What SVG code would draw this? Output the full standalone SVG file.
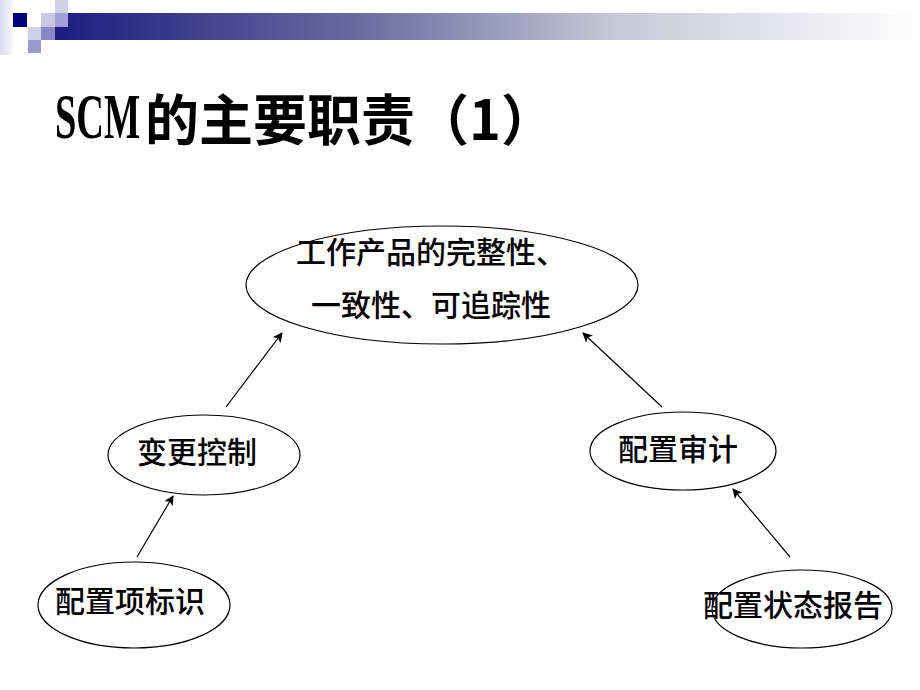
<svg xmlns="http://www.w3.org/2000/svg" width="920" height="690" viewBox="0 0 920 690">
  <defs>
    <linearGradient id="barGrad" x1="0" y1="0" x2="1" y2="0">
      <stop offset="0" stop-color="#1c1c80"/>
      <stop offset="0.35" stop-color="#6a6aa0"/>
      <stop offset="0.65" stop-color="#c8c8d8"/>
      <stop offset="1" stop-color="#ffffff"/>
    </linearGradient>
    <linearGradient id="stripGrad" x1="0" y1="0" x2="1" y2="0">
      <stop offset="0" stop-color="#dcdcee"/>
      <stop offset="1" stop-color="#f6f6fb"/>
    </linearGradient>
    <marker id="arrow" viewBox="0 0 10 10" refX="9" refY="5" markerWidth="10" markerHeight="10" markerUnits="userSpaceOnUse" orient="auto">
      <path d="M0,0 L10,5 L0,10 L2.5,5 Z" fill="#000"/>
    </marker>
    <style>
      .node ellipse { fill: #ffffff; stroke: #000000; stroke-width: 1.2; }
      .node text { font-family: "Noto Sans CJK SC", "Liberation Sans", sans-serif; font-size: 30px; font-weight: 500; fill: #000000; }
      .conn line { stroke: #000000; stroke-width: 1.2; marker-end: url(#arrow); }
      .title-latin { font-family: "Liberation Serif", serif; font-size: 64px; font-weight: bold; fill: #000000; }
      .title-cjk { font-family: "Noto Sans CJK SC", sans-serif; font-size: 55px; font-weight: bold; fill: #000000; }
    </style>
  </defs>

  <rect width="920" height="690" fill="#ffffff"/>

  <g id="header">
    <rect x="0" y="0" width="13" height="55" fill="url(#stripGrad)"/>
    <rect x="55" y="13" width="865" height="27" fill="url(#barGrad)"/>
    <rect x="13" y="13" width="14" height="14" fill="#000080"/>
    <rect x="28" y="27" width="13" height="13" fill="#d0d0e8"/>
    <rect x="28" y="40" width="13" height="13" fill="#9898cc"/>
    <rect x="41" y="13" width="14" height="14" fill="#c8c8e4"/>
    <rect x="41" y="27" width="14" height="13" fill="#8888c8"/>
    <rect x="55" y="0" width="13" height="13" fill="#d0d0e8"/>
    <rect x="55" y="13" width="13" height="14" fill="#a0a0d4"/>
    <rect x="55" y="27" width="13" height="13" fill="#1e1e80"/>
  </g>

  <g id="title">
    <g transform="translate(55,138) scale(0.6,1)">
      <text class="title-latin" x="0" y="0">SCM</text>
    </g>
    <text class="title-cjk" x="145" y="140" textLength="410" lengthAdjust="spacingAndGlyphs">的主要职责（1）</text>
  </g>

  <g id="connectors" class="conn">
    <line x1="226" y1="407" x2="282" y2="333"/>
    <line x1="662" y1="407" x2="583" y2="333"/>
    <line x1="137" y1="557" x2="173" y2="496"/>
    <line x1="790" y1="557" x2="733" y2="489"/>
  </g>

  <g id="node-goal" class="node">
    <ellipse cx="442" cy="285" rx="196" ry="59"/>
    <text x="296" y="263">工作产品的完整性、</text>
    <text x="311" y="316">一致性、可追踪性</text>
  </g>

  <g id="node-change" class="node">
    <ellipse cx="204" cy="455" rx="96" ry="40"/>
    <text x="137" y="463">变更控制</text>
  </g>

  <g id="node-audit" class="node">
    <ellipse cx="683" cy="451" rx="93" ry="39"/>
    <text x="618" y="460">配置审计</text>
  </g>

  <g id="node-ident" class="node">
    <ellipse cx="134" cy="605" rx="96" ry="43"/>
    <text x="55" y="612">配置项标识</text>
  </g>

  <g id="node-status" class="node">
    <ellipse cx="802" cy="609" rx="90" ry="39"/>
    <text x="703" y="616">配置状态报告</text>
  </g>
</svg>
